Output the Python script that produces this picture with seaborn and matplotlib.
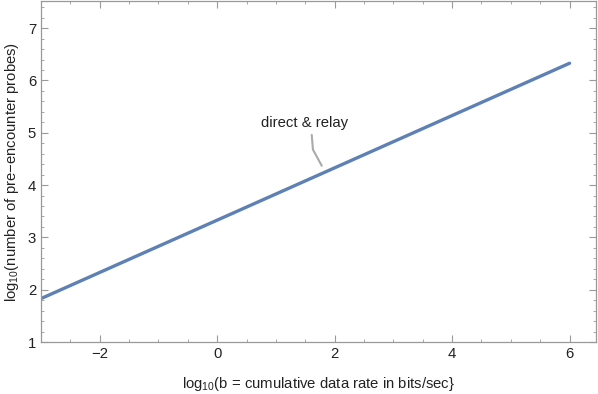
import numpy as np
import pandas as pd
import matplotlib
matplotlib.use("Agg")
import matplotlib.pyplot as plt
import seaborn as sns
from matplotlib.ticker import MultipleLocator

# data
log_rate = [-3.0, 6.0]
log_probes = [1.83, 6.33]
series_label = "direct & relay"

x_ticks = [-2, 0, 2, 4, 6]
y_ticks = [1, 2, 3, 4, 5, 6, 7]

sns.set_style("ticks")
plt.rcParams['font.family'] = ['Liberation Sans', 'DejaVu Sans']
plt.rcParams['mathtext.default'] = 'regular'

fs = 10.7
df = pd.DataFrame({'x': log_rate, 'y': log_probes})

fig = plt.figure(figsize=(5.98, 3.94), dpi=100)
ax = fig.add_axes([41 / 598, 52 / 394, 555 / 598, 341 / 394])

sns.lineplot(data=df, x='x', y='y', ax=ax, color='#5E81B5', linewidth=2.4)

ax.set_xlim(-3.0, 6.45)
ax.set_ylim(1.0, 7.52)
ax.set_xticks(x_ticks)
ax.set_yticks(y_ticks)
ax.xaxis.set_minor_locator(MultipleLocator(0.5))
ax.yaxis.set_minor_locator(MultipleLocator(0.2))

frame_col = '#999999'
for s in ax.spines.values():
    s.set_color(frame_col)
    s.set_linewidth(0.9)
ax.tick_params(which='both', direction='in', top=True, right=True,
               color=frame_col, labelcolor='#222222', labelsize=fs)
ax.tick_params(which='major', length=5, width=0.8)
ax.tick_params(which='minor', length=2.5, width=0.6)

ax.set_xlabel("log$_{10}$(b = cumulative data rate in bits/sec}",
              fontsize=fs, color='#222222', labelpad=10)
ax.set_ylabel("log$_{10}$(number of pre\u2212encounter probes)",
              fontsize=fs, color='#222222', labelpad=5)

# callout label
ax.annotate(series_label, xy=(1.78, 4.37), xytext=(1.49, 5.19),
            ha='center', va='center', fontsize=fs, color='#222222')
ax.plot([1.61, 1.63, 1.78], [4.96, 4.68, 4.37], color='#aaaaaa', lw=1.5)

fig.savefig("out.png", dpi=100)
